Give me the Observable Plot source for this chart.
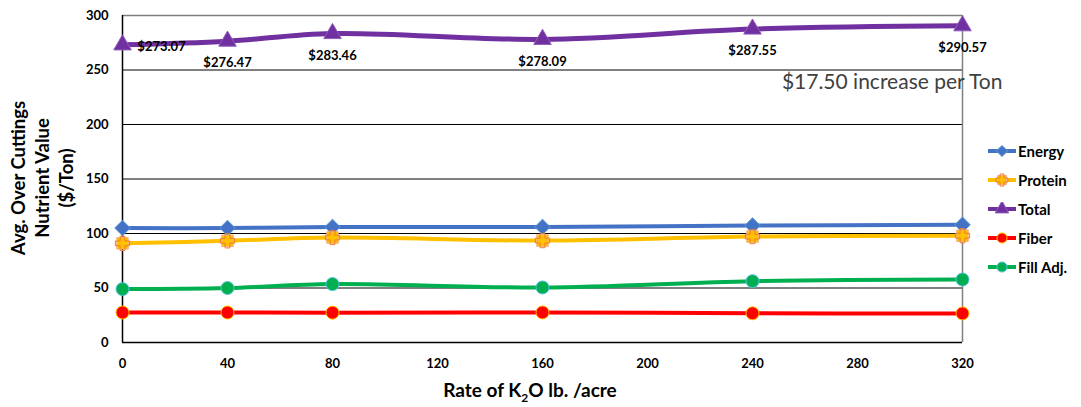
<!DOCTYPE html>
<html><head><meta charset="utf-8">
<script src="https://cdn.jsdelivr.net/npm/d3@7"></script>
<script src="https://cdn.jsdelivr.net/npm/@observablehq/plot@0.6"></script>
<style>
body{margin:0;background:#fff;font-family:Lato,"Liberation Sans",Arial,sans-serif;}
#wrap{position:relative;width:1081px;height:407px;}
#legend{position:absolute;left:987px;top:136px;font-weight:bold;font-size:15px;color:#000;}
#legend .it{display:flex;align-items:center;height:29px;}
#legend svg{margin-right:1px;}
</style></head><body>
<div id="wrap"><div id="chart"></div><div id="legend"></div></div>
<script>
const rates = [0, 40, 80, 160, 240, 320];
const energy = [105, 105, 106, 106, 107.3, 108];
const protein = [91, 93.3, 96.3, 93.5, 97.2, 98];
const total = [273.07, 276.47, 283.46, 278.09, 287.55, 290.57];
const fiber = [27.5, 27.5, 27.4, 27.6, 26.8, 26.7];
const fillAdj = [49, 50, 53.6, 50.5, 56.3, 57.8];
const totalLabels = ["$273.07", "$276.47", "$283.46", "$278.09", "$287.55", "$290.57"];
const xTicks = [0, 40, 80, 120, 160, 200, 240, 280, 320];
const yTicks = [0, 50, 100, 150, 200, 250, 300];

const series = [
  {name: "Energy", vals: energy, color: "#4472C4", symbol: "diamond2", fill: "#4472C4", stroke: "#5B9BD5", r: 7, sw: 4},
  {name: "Protein", vals: protein, color: "#FFC000", symbol: "square", fill: "#FFC000", stroke: "#F4B183", r: 6.5, sw: 4},
  {name: "Total", vals: total, color: "#7030A0", symbol: "triangle", fill: "#7030A0", stroke: "#8E5CB8", r: 6.5, sw: 5},
  {name: "Fiber", vals: fiber, color: "#FF0000", symbol: "circle", fill: "#FF0000", stroke: "#FFC000", r: 6.5, sw: 4},
  {name: "Fill Adj.", vals: fillAdj, color: "#00B050", symbol: "circle", fill: "#00B050", stroke: "#5BC0DE", r: 6.5, sw: 4}
];

const marks = [
  Plot.ruleY([50,100,150,200,250], {stroke: "#000", strokeWidth: 1}),
  Plot.ruleY([300], {stroke: "#808080", strokeWidth: 1.5}),
  Plot.ruleX([320], {stroke: "#808080", strokeWidth: 1.5}),
  Plot.ruleX([0], {stroke: "#000", strokeWidth: 1.5}),
  Plot.ruleY([0], {stroke: "#000", strokeWidth: 1.5})
];
for (const s of series) {
  const data = rates.map((x, i) => ({x, y: s.vals[i]}));
  marks.push(Plot.line(data, {x: "x", y: "y", stroke: s.color, strokeWidth: s.sw, curve: "catmull-rom"}));
}
for (const s of series) {
  const data = rates.map((x, i) => ({x, y: s.vals[i]}));
  marks.push(Plot.dot(data, {x: "x", y: "y", symbol: () => s.symbol, fill: s.fill, stroke: s.stroke, strokeWidth: 1, r: s.r}));
  if (s.name === "Protein") {
    marks.push(Plot.dot(data, {x: "x", y: "y", symbol: "cross", fill: "none", stroke: "#ED7D31", strokeWidth: 1, r: 6}));
  }
}
const lab = rates.map((x, i) => ({x, y: total[i], t: totalLabels[i]}));
marks.push(Plot.text(lab.slice(0,1), {x: "x", y: "y", text: "t", dx: 39, dy: 2, fontWeight: "bold", fontSize: 13, fill: "#000"}));
marks.push(Plot.text(lab.slice(1), {x: "x", y: "y", text: "t", dy: 22, fontWeight: "bold", fontSize: 13, fill: "#000"}));

const chart = Plot.plot({
  width: 1081, height: 407,
  marginLeft: 122, marginRight: 119, marginTop: 15, marginBottom: 65,
  style: {fontFamily: "Lato,'Liberation Sans',Arial,sans-serif", background: "#fff"},
  x: {domain: [0, 320], ticks: xTicks, tickSize: 0, tickPadding: 16, label: null, tickFormat: d => d},
  y: {domain: [0, 300], ticks: yTicks, tickSize: 0, tickPadding: 14, label: null},
  marks: [
    ...marks,
    Plot.axisX({ticks: xTicks, tickSize: 0, tickPadding: 16, fontWeight: "bold", fontSize: 13, label: null}),
    Plot.axisY({ticks: yTicks, tickSize: 0, tickPadding: 14, fontWeight: "bold", fontSize: 13, label: null}),
    Plot.text(["$17.50 increase per Ton"], {x: () => 255, y: () => 300, dx: -10, dy: 67, fontSize: 21, fill: "#404040", textAnchor: "start"})
  ]
});
document.getElementById("chart").appendChild(chart);

const svg = d3.select(chart);
svg.append("text").attr("x", 530).attr("y", 397).attr("text-anchor", "middle")
  .attr("font-size", 19).attr("font-weight", "bold").attr("fill", "#000")
  .call(t => { t.append("tspan").text("Rate of K"); t.append("tspan").attr("font-size", 12).attr("dy", 5).text("2"); t.append("tspan").attr("dy", -5).text("O lb. /acre"); });
const yt = svg.append("text").attr("transform", "translate(0,178) rotate(-90)").attr("text-anchor", "middle")
  .attr("font-size", 18.5).attr("font-weight", "bold").attr("fill", "#000");
["Avg. Over Cuttings", "Nutrient Value", "($/Ton)"].forEach((l, i) => yt.append("tspan").attr("x", 0).attr("y", 25 + i * 24).text(l));

const leg = d3.select("#legend");
for (const s of series) {
  const it = leg.append("div").attr("class", "it");
  const ls = it.append("svg").attr("width", 30).attr("height", 14);
  ls.append("line").attr("x1", 1).attr("x2", 29).attr("y1", 7).attr("y2", 7).attr("stroke", s.color).attr("stroke-width", 4);
  const sym = {diamond2: d3.symbolDiamond2, square: d3.symbolSquare, triangle: d3.symbolTriangle, circle: d3.symbolCircle}[s.symbol];
  ls.append("path").attr("transform", "translate(15,7)").attr("d", d3.symbol(sym, 80)()).attr("fill", s.fill).attr("stroke", s.stroke);
  if (s.name === "Protein") ls.append("path").attr("transform", "translate(15,7)").attr("d", d3.symbol(d3.symbolCross, 80)()).attr("fill", "none").attr("stroke", "#ED7D31");
  it.append("span").text(s.name);
}
</script>
</body></html>
